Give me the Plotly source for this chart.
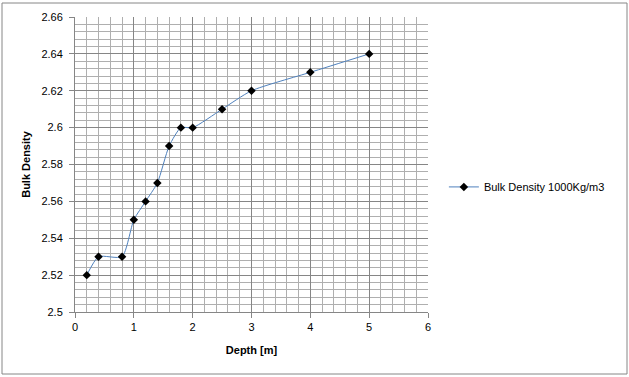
import plotly.graph_objects as go

depth = [0.2, 0.4, 0.8, 1.0, 1.2, 1.4, 1.6, 1.8, 2.0, 2.5, 3.0, 4.0, 5.0]
density = [2.52, 2.53, 2.53, 2.55, 2.56, 2.57, 2.59, 2.60, 2.60, 2.61, 2.62, 2.63, 2.64]
y_ticks = [2.5, 2.52, 2.54, 2.56, 2.58, 2.6, 2.62, 2.64, 2.66]
y_labels = ["2.5", "2.52", "2.54", "2.56", "2.58", "2.6", "2.62", "2.64", "2.66"]
x_ticks = [0, 1, 2, 3, 4, 5, 6]
x_labels = ["0", "1", "2", "3", "4", "5", "6"]

font = "Liberation Sans, Arial, sans-serif"

fig = go.Figure()
fig.add_trace(go.Scatter(
    x=depth, y=density, mode="lines+markers",
    name="Bulk Density 1000Kg/m3",
    line=dict(color="#4F81BD", width=1, shape="spline", smoothing=0.6),
    marker=dict(symbol="diamond", size=6.5, color="black"),
))

grid_major = "#868686"
grid_minor = "#AFAFAF"

fig.update_layout(
    width=629, height=377,
    margin=dict(l=75, r=201, t=17, b=65),
    paper_bgcolor="white", plot_bgcolor="white",
    font=dict(family=font, size=11, color="black"),
    showlegend=True,
    legend=dict(x=1.045, y=0.424, xanchor="left", yanchor="middle",
                font=dict(size=11), bgcolor="rgba(0,0,0,0)"),
    xaxis=dict(
        range=[0, 6], tickvals=x_ticks, ticktext=x_labels,
        showgrid=True, gridcolor=grid_major, gridwidth=1,
        showline=True, linecolor=grid_major, linewidth=1,
        ticks="outside", ticklen=5, tickcolor=grid_major,
        zeroline=False,
        minor=dict(dtick=0.2, showgrid=True, gridcolor=grid_minor, gridwidth=1),
        title=dict(text="<b>Depth [m]</b>", font=dict(size=11), standoff=14),
    ),
    yaxis=dict(
        range=[2.5, 2.66], tickvals=y_ticks, ticktext=y_labels,
        showgrid=True, gridcolor=grid_major, gridwidth=1,
        showline=True, linecolor=grid_major, linewidth=1,
        ticks="outside", ticklen=5, tickcolor=grid_major,
        ticklabelstandoff=4,
        zeroline=False,
        minor=dict(dtick=0.004, showgrid=True, gridcolor=grid_minor, gridwidth=1),
        title=dict(text="<b>Bulk Density</b>", font=dict(size=11), standoff=8),
    ),
    shapes=[dict(type="rect", xref="paper", yref="paper",
                 x0=-73/353, x1=(629-75-2)/353, y0=-(377-312-3)/295, y1=(312-3)/295,
                 line=dict(color="#868686", width=1), layer="below")],
)

fig.write_html("out.html")
